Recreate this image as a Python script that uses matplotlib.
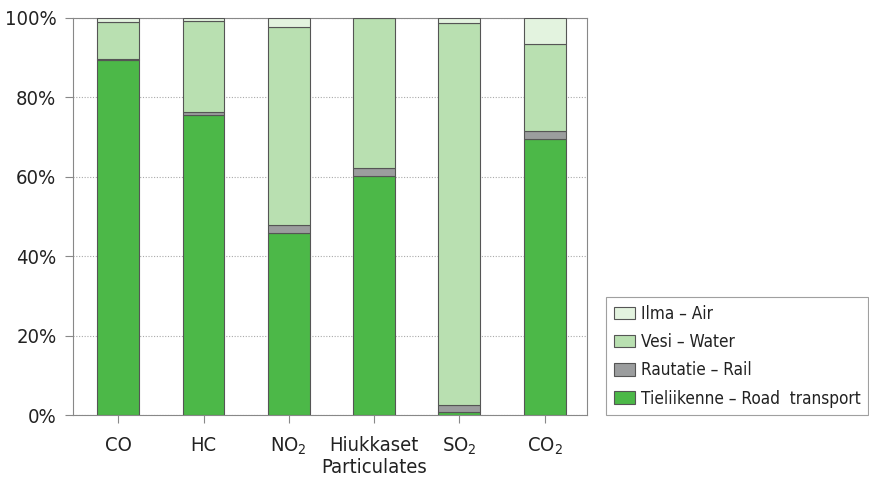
import numpy as np
import matplotlib.pyplot as plt
from matplotlib import font_manager

# pick a condensed face if one is installed, else plain Liberation Sans
narrow = None
for f in font_manager.fontManager.ttflist:
    if ("Condensed" in f.name or "Narrow" in f.name or f.stretch in ("condensed", "semi-condensed")) \
            and f.style == "normal" and f.weight in (400, "normal", "regular"):
        narrow = f
        break
if narrow is not None:
    plt.rcParams['font.family'] = [narrow.name, 'DejaVu Sans']
    plt.rcParams['font.stretch'] = narrow.stretch
    cond = True
else:
    plt.rcParams['font.family'] = ['Liberation Sans', 'DejaVu Sans']
    cond = False

categories = ["CO", "HC", "NO$_\\mathregular{2}$", "Hiukkaset\nParticulates",
              "SO$_\\mathregular{2}$", "CO$_\\mathregular{2}$"]
road = [89.4, 75.6, 45.8, 60.3, 0.7, 69.5]
rail = [0.3, 0.6, 2.1, 1.8, 1.8, 2.0]
water = [9.3, 22.9, 49.8, 37.9, 96.2, 21.9]
air = [1.0, 0.9, 2.3, 0.0, 1.3, 6.6]

series = [
    ("Tieliikenne – Road  transport", road, "#4cb848"),
    ("Rautatie – Rail", rail, "#9b9d9e"),
    ("Vesi – Water", water, "#b9e0b1"),
    ("Ilma – Air", air, "#e3f3df"),
]

fig = plt.figure(figsize=(8.7, 4.8), dpi=100)
ax = fig.add_axes([0.084, 0.135, 0.591, 0.828])

x = np.arange(len(categories))
bottom = np.zeros(len(categories))
handles = []
for label, vals, col in series:
    b = ax.bar(x, vals, width=0.49, bottom=bottom, color=col, edgecolor="#555555",
               linewidth=0.8, label=label, zorder=3)
    handles.append(b)
    bottom += np.array(vals)

fs = 14.5 if cond else 13.5
ax.set_xlim(-0.53, 5.5)
ax.set_ylim(0, 100)
ax.set_yticks([0, 20, 40, 60, 80, 100])
ax.set_yticklabels(["0%", "20%", "40%", "60%", "80%", "100%"], fontsize=fs, color="#222222")
ax.set_xticks(x)
ax.set_xticklabels(categories, fontsize=fs, linespacing=1.2, va="top", color="#222222")
ax.tick_params(axis="both", color="#888888", length=6, width=0.8)
ax.tick_params(axis="x", pad=9)
ax.tick_params(axis="y", pad=6)
for sp in ax.spines.values():
    sp.set_color("#888888")
    sp.set_linewidth(0.8)
ax.yaxis.grid(True, linestyle=(0, (1, 1.5)), color="#aaaaaa", linewidth=0.8, zorder=0)

leg = fig.legend(handles[::-1], [s[0] for s in series][::-1], loc="lower left",
                 bbox_to_anchor=(0.697, 0.135), fontsize=(12.3 if cond else 11.5), frameon=True,
                 fancybox=False, edgecolor="#888888", handlelength=1.25,
                 handleheight=0.75, handletextpad=0.3,
                 labelspacing=0.6,
                 borderpad=0.45, borderaxespad=0)
leg.get_frame().set_linewidth(0.8)
for t in leg.get_texts():
    t.set_color("#222222")

fig.savefig("out.png", dpi=100)
